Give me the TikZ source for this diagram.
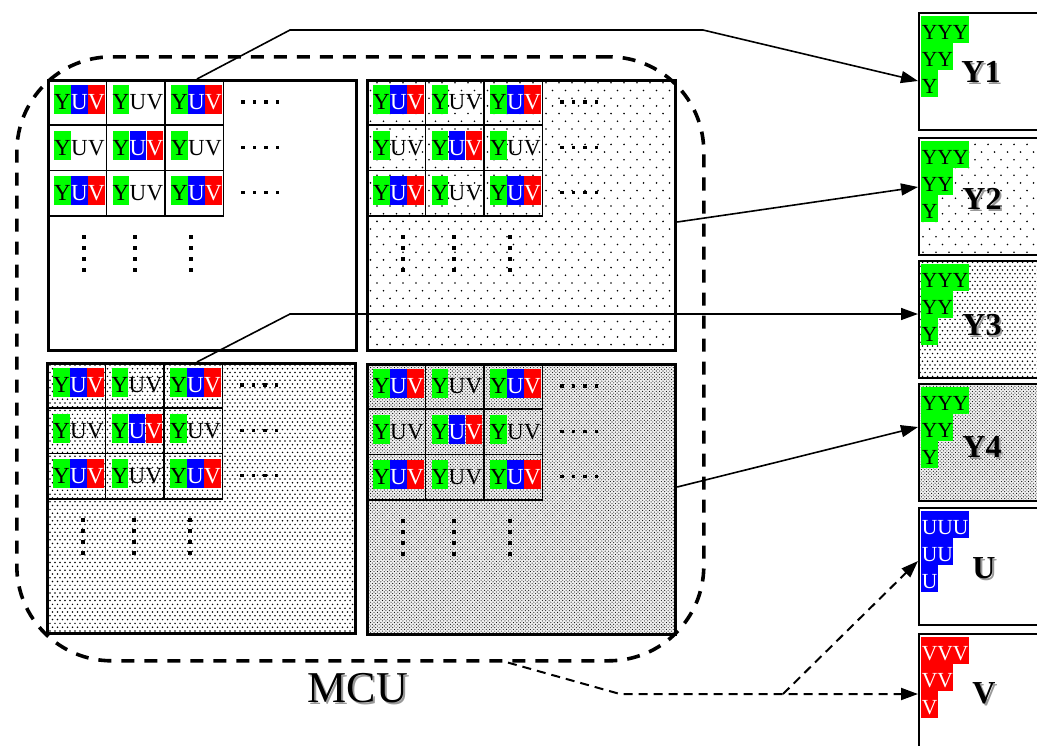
\documentclass[tikz,border=0pt]{standalone}
\usepackage{fontspec}
\setmainfont{Liberation Serif}
\usetikzlibrary{patterns,arrows.meta,calc}

\definecolor{ygreen}{RGB}{0,255,0}
\definecolor{ublue}{RGB}{0,0,255}
\definecolor{vred}{RGB}{255,0,0}

% dot screens used for the four luminance blocks
\pgfdeclarepatternformonly{sparsedots}{\pgfqpoint{-1pt}{-1pt}}{\pgfqpoint{8pt}{9pt}}{\pgfqpoint{13pt}{15.4pt}}{%
  \pgfpathcircle{\pgfqpoint{0pt}{0pt}}{0.9pt}%
  \pgfpathcircle{\pgfqpoint{6.5pt}{7.7pt}}{0.9pt}%
  \pgfusepath{fill}}
\pgfdeclarepatternformonly{densedots}{\pgfqpoint{-1pt}{-1pt}}{\pgfqpoint{4pt}{5pt}}{\pgfqpoint{5pt}{7.6pt}}{%
  \pgfpathcircle{\pgfqpoint{0pt}{0pt}}{0.85pt}%
  \pgfpathcircle{\pgfqpoint{2.5pt}{3.8pt}}{0.85pt}%
  \pgfusepath{fill}}
\pgfdeclarepatternformonly{finedots}{\pgfqpoint{-1pt}{-1pt}}{\pgfqpoint{2.7pt}{2.7pt}}{\pgfqpoint{3.4pt}{3.4pt}}{%
  \pgfpathcircle{\pgfqpoint{0pt}{0pt}}{0.55pt}%
  \pgfpathcircle{\pgfqpoint{1.7pt}{1.7pt}}{0.55pt}%
  \pgfusepath{fill}}

% a pixel carrying Y, U and V samples
\newcommand\yuvfull[1]{%
  \node[letter, fill=ygreen] (#1y) at ($(#1.north west)+(7,6)$) {Y};
  \node[letter, fill=ublue, text=white] (#1u) at (#1y.north east) {U};
  \node[letter, fill=vred, text=white] (#1v) at (#1u.north east) {V};}
% a pixel carrying only its Y sample
\newcommand\yuvyonly[1]{%
  \node[letter, fill=ygreen] (#1y) at ($(#1.north west)+(7,6)$) {Y};
  \node[letter] (#1u) at (#1y.north east) {U};
  \node[letter] (#1v) at (#1u.north east) {V};}
% triangular run of samples inside an output block
\newcommand\samplestairs[4]{%
  \node[stairrow, fill=#3, text=#4] (#1a) at ($(#1.north west)+(3,4)$) {#2#2#2};
  \node[stairrow, fill=#3, text=#4] (#1b) at (#1a.south west) {#2#2};
  \node[stairrow, fill=#3, text=#4] (#1c) at (#1b.south west) {#2};}
% label with a soft drop shadow
\newcommand\shadowlabel[4]{%
  \node[text=black!40, font=#3, inner sep=0pt] (#1s) at ($(#2)+(1.8,1.8)$) {#4};
  \node[font=#3, inner sep=0pt] (#1) at (#2) {#4};}

\begin{document}
\begin{tikzpicture}[x=1pt,y=-1pt,
  quad/.style={draw, line width=3.2pt, minimum width=308pt, minimum height=270pt,
    inner sep=0pt, anchor=north west},
  cell/.style={draw, line width=1.8pt, minimum width=58.5pt, minimum height=45.3pt,
    inner sep=0pt, anchor=north west},
  letter/.style={inner sep=0pt, minimum width=16.3pt, minimum height=29pt,
    text height=20pt, text depth=0pt, anchor=north west,
    font=\fontsize{23}{23}\selectfont},
  stairrow/.style={inner xsep=0.6pt, inner ysep=0pt, minimum height=26.5pt,
    text height=19.5pt, text depth=0pt, anchor=north west,
    font=\fontsize{21.5}{21.5}\selectfont},
  rbox/.style={draw, line width=2pt, minimum width=130pt, minimum height=117pt,
    inner sep=0pt, anchor=north west},
  conn/.style={line width=1.6pt, -{Triangle[length=17pt,width=12pt]}},
  dconn/.style={line width=2pt, dash pattern=on 9pt off 6pt,
    -{Triangle[length=17pt,width=12pt]}},
  sqdot/.style={fill=black},
  graytone/.style={preaction={fill=black!6}, pattern=finedots}]

\useasboundingbox (0,0) rectangle (1037,745);
\clip (0,0) rectangle (1037,745);
\fill[white] (0,0) rectangle (1037,745);

% MCU outline
\node[draw, line width=3.6pt, dash pattern=on 13pt off 10pt, rounded corners=95pt,
  minimum width=687pt, minimum height=604pt, inner sep=0pt, anchor=north west]
  (mcu) at (15,55) {};
\shadowlabel{mculab}{358,688}{\fontsize{44}{44}\selectfont}{MCU}

% the four 8x8 luminance blocks of the MCU
\node[quad] (q1) at (47,79) {};
\node[quad, pattern=sparsedots] (q2) at (366,79) {};
\node[quad, pattern=densedots] (q3) at (46,362) {};
\node[quad, graytone] (q4) at (366,363) {};

\foreach \q/\qx/\qy in {1/47/79, 2/366/79, 3/46/362, 4/366/363} {
  \foreach \r in {1,2,3} {
    \foreach \c in {1,2,3} {
      \node[cell] (q\q-\r\c) at ({\qx+(\c-1)*58.5},{\qy+(\r-1)*45.3}) {};
      \pgfmathtruncatemacro\parity{mod(\r+\c,2)}
      \ifnum\parity=0 \yuvfull{q\q-\r\c}\else\yuvyonly{q\q-\r\c}\fi
    }
  }
  % continuation marks
  \foreach \r in {0,1,2}
    \foreach \k in {0,...,3}
      \fill[sqdot] ({\qx+196+\k*11.5},{\qy+23+\r*45.3}) +(-1.6,-1.6) rectangle +(1.6,1.6);
  \foreach \cx in {37,88,144}
    \foreach \k in {0,...,3}
      \fill[sqdot] ({\qx+\cx},{\qy+158+\k*11}) +(-1.6,-1.6) rectangle +(1.6,1.6);
}

% output blocks
\node[rbox] (y1) at (918,12) {};
\node[rbox, pattern=sparsedots] (y2) at (918,137) {};
\node[rbox, pattern=densedots] (y3) at (918,260) {};
\node[rbox, graytone] (y4) at (918,383) {};
\node[rbox] (ublk) at (918,507) {};
\node[rbox] (vblk) at (918,633) {};

\samplestairs{y1}{Y}{ygreen}{black}
\samplestairs{y2}{Y}{ygreen}{black}
\samplestairs{y3}{Y}{ygreen}{black}
\samplestairs{y4}{Y}{ygreen}{black}
\samplestairs{ublk}{U}{ublue}{white}
\samplestairs{vblk}{V}{vred}{white}

\shadowlabel{y1lab}{981,72}{\fontsize{32}{32}\selectfont\bfseries}{Y1}
\shadowlabel{y2lab}{982,199}{\fontsize{32}{32}\selectfont\bfseries}{Y2}
\shadowlabel{y3lab}{982,325}{\fontsize{32}{32}\selectfont\bfseries}{Y3}
\shadowlabel{y4lab}{982,447}{\fontsize{32}{32}\selectfont\bfseries}{Y4}
\shadowlabel{ulab}{984,568}{\fontsize{32}{32}\selectfont\bfseries}{U}
\shadowlabel{vlab}{984,693}{\fontsize{32}{32}\selectfont\bfseries}{V}

% connection points
\coordinate (q1tap) at ($(q1.north west)+(150,0)$);
\coordinate (q2tap) at ($(q2.north east)+(0,143)$);
\coordinate (q3tap) at ($(q3.north west)+(151,0)$);
\coordinate (q4tap) at ($(q4.north east)+(0,124)$);
\coordinate (mcutap) at ($(mcu.south west)+(493,0)$);
\coordinate (y1in) at ($(y1.north west)+(0,69)$);
\coordinate (y2in) at ($(y2.north west)+(0,50)$);
\coordinate (y3in) at ($(y3.north west)+(0,54)$);
\coordinate (y4in) at ($(y4.north west)+(0,44)$);
\coordinate (uin) at ($(ublk.north west)+(0,54)$);
\coordinate (vin) at ($(vblk.north west)+(0,61)$);
\coordinate (chromasplit) at (783,694);

% luminance blocks to their outputs
\draw[conn] (q1tap) -- (290,30) -- (703,30) -- (y1in);
\draw[conn] (q2tap) -- (y2in);
\draw[conn] (q3tap) -- (290,314) -- (y3in);
\draw[conn] (q4tap) -- (y4in);

% chrominance from the whole MCU
\draw[dconn] (mcutap) -- (620,694) -- (vin);
\draw[dconn] (chromasplit) -- (uin);
\end{tikzpicture}
\end{document}
